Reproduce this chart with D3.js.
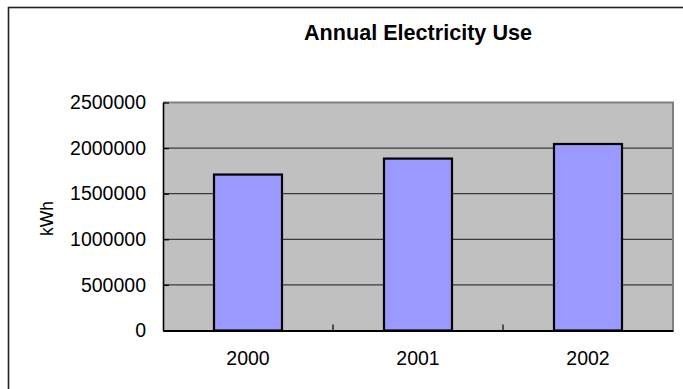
<!DOCTYPE html>
<html>
<head>
<meta charset="utf-8">
<script src="https://cdn.jsdelivr.net/npm/d3@7"></script>
<style>
  html, body { margin: 0; padding: 0; background: #fff; }
  svg { display: block; }
  text { font-family: "Liberation Sans", Arial, sans-serif; fill: #000; }
</style>
</head>
<body>
<svg id="chart" width="683" height="389"></svg>
<script>
const title = "Annual Electricity Use";
const yAxisLabel = "kWh";
const years = ["2000", "2001", "2002"];
const usage = [1710000, 1885000, 2045000];
const yTicks = [0, 500000, 1000000, 1500000, 2000000, 2500000];

const W = 683, H = 389;
const plot = { left: 163, right: 673, top: 102.5, bottom: 330.5 };

const svg = d3.select("#chart");

// outer chart border (extends beyond the visible frame at right/bottom)
svg.append("rect")
  .attr("x", 8.5).attr("y", 7.5)
  .attr("width", W + 20).attr("height", H + 20)
  .attr("fill", "#fff").attr("stroke", "#222").attr("stroke-width", 1.6);

const x = d3.scaleBand().domain(years)
  .range([plot.left, plot.right])
  .paddingInner(0.6).paddingOuter(0.3);
const y = d3.scaleLinear().domain([0, 2500000]).range([plot.bottom, plot.top]);

// plot background
svg.append("rect")
  .attr("x", plot.left).attr("y", plot.top)
  .attr("width", plot.right - plot.left).attr("height", plot.bottom - plot.top)
  .attr("fill", "#c0c0c0");

// gridlines
svg.append("g").selectAll("line")
  .data(yTicks.filter(d => d > 0 && d < 2500000))
  .join("line")
  .attr("x1", plot.left).attr("x2", plot.right)
  .attr("y1", d => y(d)).attr("y2", d => y(d))
  .attr("stroke", "#3a3a3a").attr("stroke-width", 1.2);

// plot border top/right (gray)
svg.append("path")
  .attr("d", `M${plot.left},${plot.top}H${plot.right}V${plot.bottom}`)
  .attr("fill", "none").attr("stroke", "#808080").attr("stroke-width", 2);

// bars
svg.append("g").selectAll("rect")
  .data(years)
  .join("rect")
  .attr("x", d => x(d))
  .attr("width", x.bandwidth())
  .attr("y", (d, i) => y(usage[i]))
  .attr("height", (d, i) => y(0) - y(usage[i]))
  .attr("fill", "#9999ff").attr("stroke", "#000").attr("stroke-width", 2.2);

// y axis
const yAxis = d3.axisLeft(y).tickValues(yTicks).tickFormat(d3.format("d"))
  .tickSizeInner(-6).tickSizeOuter(0).tickPadding(17);
const gy = svg.append("g").attr("transform", `translate(${plot.left},0)`).call(yAxis);
gy.select(".domain").attr("stroke", "#000").attr("stroke-width", 1.6);
gy.selectAll(".tick line").attr("stroke", "#000").attr("stroke-width", 1.2);
gy.selectAll(".tick text")
  .attr("font-size", "19.5px")
  .attr("font-family", "Liberation Sans, Arial, sans-serif")
  .attr("fill", "#000");

// x axis
const xAxis = d3.axisBottom(x).tickSize(0).tickPadding(21);
const gx = svg.append("g").attr("transform", `translate(0,${plot.bottom})`).call(xAxis);
gx.select(".domain").attr("stroke", "#000").attr("stroke-width", 2);
gx.selectAll(".tick text")
  .attr("font-size", "19.5px")
  .attr("font-family", "Liberation Sans, Arial, sans-serif")
  .attr("fill", "#000");

// category separator ticks (inward)
const step = x.step();
const seps = years.slice(1).map(d => x(d) - x.paddingInner() * step / 2);
svg.append("g").selectAll("line")
  .data(seps)
  .join("line")
  .attr("x1", d => d).attr("x2", d => d)
  .attr("y1", plot.bottom).attr("y2", plot.bottom - 6)
  .attr("stroke", "#000").attr("stroke-width", 1.2);

// title
svg.append("text")
  .attr("x", (plot.left + plot.right) / 2).attr("y", 40)
  .attr("text-anchor", "middle")
  .attr("font-size", "21.6px").attr("font-weight", "bold")
  .text(title);

// y label
svg.append("text")
  .attr("transform", `translate(53,${(plot.top + plot.bottom) / 2 + 2}) rotate(-90)`)
  .attr("text-anchor", "middle")
  .attr("font-size", "17.5px")
  .text(yAxisLabel);
</script>
</body>
</html>
